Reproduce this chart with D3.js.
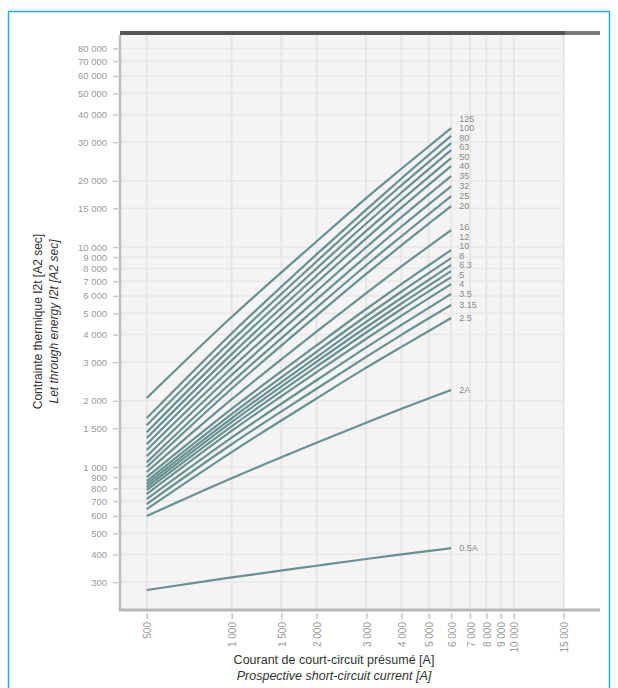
<!DOCTYPE html>
<html>
<head>
<meta charset="utf-8">
<script src="https://cdnjs.cloudflare.com/ajax/libs/d3/7.8.5/d3.min.js"></script>
<style>
  body { margin: 0; background: #fff; }
  text { font-family: "Liberation Sans", Arial, sans-serif; }
</style>
</head>
<body>
<svg id="chart" width="618" height="688"></svg>
<script>
// prospective current points [A]
var currents = [500, 1000, 2000, 3000, 4000, 6000];

// let-through energy I2t [A2 s], one array per fuse rating
var i2t_125  = [2060, 4810, 10600, 16700, 22700, 34700];
var i2t_100  = [1670, 4050, 9260, 14800, 20500, 32000];
var i2t_80   = [1550, 3760, 8600, 13800, 19100, 29700];
var i2t_63   = [1440, 3500, 7990, 12800, 17700, 27600];
var i2t_50   = [1355, 3260, 7410, 11850, 16360, 25400];
var i2t_40   = [1270, 3050, 6880, 10950, 15100, 23350];
var i2t_35   = [1195, 2820, 6300, 9980, 13670, 21000];
var i2t_32   = [1120, 2620, 5780, 9080, 12400, 18900];
var i2t_25   = [1050, 2430, 5300, 8270, 11200, 17050];
var i2t_20   = [1000, 2270, 4880, 7550, 10190, 15360];
var i2t_16   = [950, 2030, 4130, 6180, 8170, 11950];
var i2t_12   = [900, 1840, 3570, 5230, 6790, 9690];
var i2t_10   = [864, 1740, 3340, 4860, 6280, 8910];
var i2t_8    = [837, 1665, 3160, 4570, 5870, 8280];
var i2t_6_3  = [811, 1600, 3010, 4320, 5540, 7780];
var i2t_5    = [786, 1530, 2860, 4090, 5230, 7300];
var i2t_4    = [754, 1460, 2700, 3830, 4880, 6790];
var i2t_3_5  = [715, 1360, 2480, 3500, 4430, 6120];
var i2t_3_15 = [679, 1270, 2270, 3170, 3990, 5450];
var i2t_2_5  = [644, 1170, 2050, 2830, 3520, 4760];
var i2t_2    = [599, 889, 1290, 1590, 1840, 2240];
var i2t_0_5  = [276, 315, 356, 382, 401, 428];

var ratings = ['125', '100', '80', '63', '50', '40', '35', '32', '25', '20', '16',
               '12', '10', '8', '6.3', '5', '4', '3.5', '3.15', '2.5', '2A', '0.5A'];

var xTicks = [500, 1000, 1500, 2000, 3000, 4000, 5000, 6000, 7000, 8000, 9000, 10000, 15000];
var yTicks = [300, 400, 500, 600, 700, 800, 900, 1000, 1500, 2000, 3000, 4000, 5000,
              6000, 7000, 8000, 9000, 10000, 15000, 20000, 30000, 40000, 50000,
              60000, 70000, 80000];

var series = [i2t_125, i2t_100, i2t_80, i2t_63, i2t_50, i2t_40, i2t_35, i2t_32, i2t_25,
              i2t_20, i2t_16, i2t_12, i2t_10, i2t_8, i2t_6_3, i2t_5, i2t_4, i2t_3_5,
              i2t_3_15, i2t_2_5, i2t_2, i2t_0_5].map(function(vals, i) {
    return {name: ratings[i], values: vals.map(function(v, j) { return [currents[j], v]; })};
});

var svg = d3.select('#chart');
var panel = {left: 120, right: 565, top: 33, bottom: 610};

var x = d3.scaleLog().domain([402, 15200]).range([panel.left, panel.right]);
var y = d3.scaleLog().domain([224, 94000]).range([panel.bottom, panel.top]);

var fmt = d3.formatLocale({decimal: '.', thousands: ' ', grouping: [3], currency: ['', '']}).format(',');

// outer frame
svg.append('rect')
    .attr('x', 8.5).attr('y', 11.5)
    .attr('width', 601).attr('height', 700)
    .attr('fill', 'none')
    .attr('stroke', '#2aa9e6')
    .attr('stroke-width', 1.5);

// plot panel + grid
svg.append('rect')
    .attr('x', panel.left).attr('y', panel.top)
    .attr('width', panel.right - panel.left).attr('height', panel.bottom - panel.top)
    .attr('fill', '#f4f4f4');

svg.append('g').selectAll('line.vgrid')
    .data(xTicks).enter().append('line')
    .attr('x1', function(d) { return x(d); }).attr('x2', function(d) { return x(d); })
    .attr('y1', panel.top).attr('y2', panel.bottom)
    .attr('stroke', '#e6e6e6').attr('stroke-width', 2);

svg.append('g').selectAll('line.hgrid')
    .data(yTicks).enter().append('line')
    .attr('x1', panel.left).attr('x2', panel.right)
    .attr('y1', function(d) { return y(d); }).attr('y2', function(d) { return y(d); })
    .attr('stroke', '#e8e8e8').attr('stroke-width', 1.5);

// top bar
svg.append('rect').attr('x', panel.left).attr('y', 31).attr('width', panel.right - panel.left).attr('height', 4).attr('fill', '#555');
svg.append('rect').attr('x', panel.right).attr('y', 31).attr('width', 35).attr('height', 4).attr('fill', '#7a7a7a');

// axes
var yAxis = d3.axisLeft(y).tickValues(yTicks).tickFormat(fmt).tickSize(5).tickPadding(6);
var gy = svg.append('g').attr('transform', 'translate(' + (panel.left - 2) + ',0)').call(yAxis);
gy.select('.domain').remove();
gy.selectAll('line').attr('stroke', '#c8c8c8').attr('stroke-width', 1.5);
gy.selectAll('text').attr('fill', '#9a9a9a').style('font-size', '9.5px');

var xAxis = d3.axisBottom(x).tickValues(xTicks).tickFormat(fmt).tickSize(6).tickPadding(4);
var gx = svg.append('g').attr('transform', 'translate(0,' + (panel.bottom + 3) + ')').call(xAxis);
gx.select('.domain').remove();
gx.selectAll('line').attr('stroke', '#c8c8c8').attr('stroke-width', 1.5);
gx.selectAll('text')
    .attr('fill', '#9a9a9a').style('font-size', '10px')
    .attr('text-anchor', 'end')
    .attr('dy', null)
    .attr('transform', 'rotate(-90)')
    .attr('x', -9).attr('y', 4);

svg.append('line').attr('x1', panel.left).attr('x2', panel.left)
    .attr('y1', 35).attr('y2', panel.bottom + 1)
    .attr('stroke', '#bdbdbd').attr('stroke-width', 2.5);
svg.append('line').attr('x1', panel.left - 1).attr('x2', 600)
    .attr('y1', panel.bottom).attr('y2', panel.bottom)
    .attr('stroke', '#b8b8b8').attr('stroke-width', 3);

// curves
var line = d3.line()
    .x(function(d) { return x(d[0]); })
    .y(function(d) { return y(d[1]); })
    .curve(d3.curveMonotoneX);

svg.append('g').selectAll('path.curve')
    .data(series).enter().append('path')
    .attr('class', 'curve')
    .attr('d', function(d) { return line(d.values); })
    .attr('fill', 'none')
    .attr('stroke', '#4f7f80')
    .attr('stroke-opacity', 0.85)
    .attr('stroke-width', 2.2);

// end labels, pushed up so they don't overlap
var prev = Infinity;
var labelY = [];
for (var i = series.length - 1; i >= 0; i--) {
    var last = series[i].values[series[i].values.length - 1];
    var ly = Math.min(y(last[1]), prev - 9.5);
    labelY[i] = ly;
    prev = ly;
}
svg.append('g').selectAll('text.rating')
    .data(series).enter().append('text')
    .attr('x', x(6000) + 8)
    .attr('y', function(d, i) { return labelY[i]; })
    .attr('dy', '0.35em')
    .attr('fill', '#8a8a8a')
    .style('font-size', '9px')
    .text(function(d) { return d.name; });

// axis titles
var cy = (panel.top + panel.bottom) / 2;
svg.append('text')
    .attr('transform', 'translate(42,' + cy + ') rotate(-90)')
    .attr('text-anchor', 'middle')
    .attr('fill', '#333').style('font-size', '12px')
    .text('Contrainte thermique I2t [A2 sec]');
svg.append('text')
    .attr('transform', 'translate(58,' + cy + ') rotate(-90)')
    .attr('text-anchor', 'middle')
    .attr('fill', '#333').style('font-size', '12px').style('font-style', 'italic')
    .text('Let through energy I2t [A2 sec]');

svg.append('text')
    .attr('x', 334).attr('y', 664)
    .attr('text-anchor', 'middle')
    .attr('fill', '#333').style('font-size', '12.5px')
    .text('Courant de court-circuit présumé [A]');
svg.append('text')
    .attr('x', 334).attr('y', 680)
    .attr('text-anchor', 'middle')
    .attr('fill', '#333').style('font-size', '12.5px').style('font-style', 'italic')
    .text('Prospective short-circuit current [A]');
</script>
</body>
</html>
